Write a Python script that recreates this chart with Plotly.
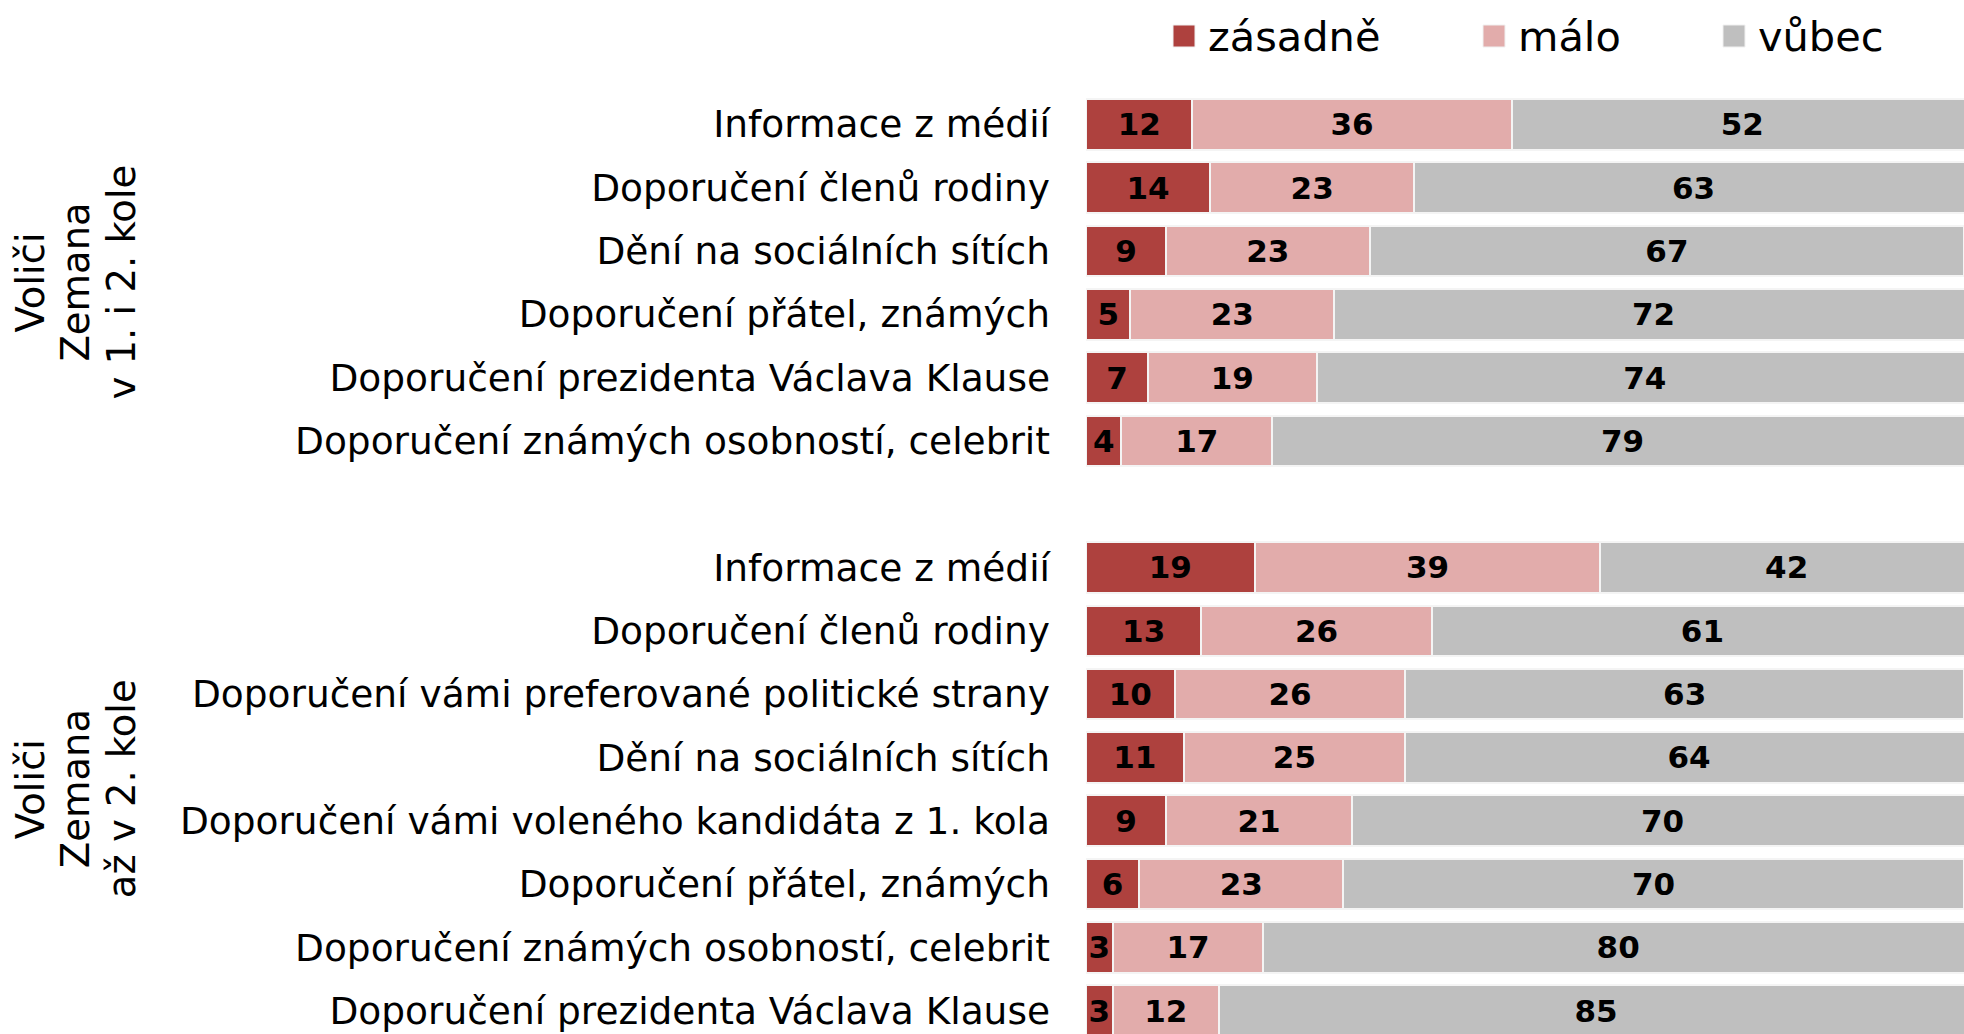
import plotly.graph_objects as go

# Series (stacked segments) and their colours
series_names = ["zásadně", "málo", "vůbec"]
series_colors = ["#AE413E", "#E2ACAB", "#BFBFBF"]

# Group 1: voters of Zeman in both rounds
group1_title = ["Voliči", "Zemana", "v 1. i 2. kole"]
group1_labels = [
    "Informace z médií",
    "Doporučení členů rodiny",
    "Dění na sociálních sítích",
    "Doporučení přátel, známých",
    "Doporučení prezidenta Václava Klause",
    "Doporučení známých osobností, celebrit",
]
group1_zasadne = [12, 14, 9, 5, 7, 4]
group1_malo = [36, 23, 23, 23, 19, 17]
group1_vubec = [52, 63, 67, 72, 74, 79]

# Group 2: voters of Zeman only in the second round
group2_title = ["Voliči", "Zemana", "až v 2. kole"]
group2_labels = [
    "Informace z médií",
    "Doporučení členů rodiny",
    "Doporučení vámi preferované politické strany",
    "Dění na sociálních sítích",
    "Doporučení vámi voleného kandidáta z 1. kola",
    "Doporučení přátel, známých",
    "Doporučení známých osobností, celebrit",
    "Doporučení prezidenta Václava Klause",
]
group2_zasadne = [19, 13, 10, 11, 9, 6, 3, 3]
group2_malo = [39, 26, 26, 25, 21, 23, 17, 12]
group2_vubec = [42, 61, 63, 64, 70, 70, 80, 85]

# Row positions: one empty row separates the two groups
pos1 = list(range(len(group1_labels)))
pos2 = [len(group1_labels) + 1 + i for i in range(len(group2_labels))]
positions = pos1 + pos2
labels = group1_labels + group2_labels

series_values = [
    group1_zasadne + group2_zasadne,
    group1_malo + group2_malo,
    group1_vubec + group2_vubec,
]

W, H = 1964, 1034
ML, MR, MT, MB = 1086, 0, 92, 0
FONT = "DejaVu Sans"

fig = go.Figure()
for name, color, vals in zip(series_names, series_colors, series_values):
    fig.add_trace(go.Bar(
        name=name,
        y=positions,
        x=vals,
        orientation="h",
        width=0.8,
        marker=dict(color=color, line=dict(color="#F4F4F4", width=2)),
        text=[str(v) for v in vals],
        textposition="inside",
        insidetextanchor="middle",
        textangle=0,
        constraintext="none",
        textfont=dict(family=FONT, size=31, color="black", weight="bold"),
        showlegend=False,
        hoverinfo="name+x",
    ))

plot_w = W - ML - MR
plot_h = H - MT - MB


def px_x(px):
    return (px - ML) / plot_w


def px_y(py):
    return (H - MB - py) / plot_h


annotations = []
shapes = []

# Legend drawn as square swatches with text
legend_swatch_x = [1173, 1483, 1723]
legend_text_x = [1206, 1516, 1756]
for name, color, sx, tx in zip(series_names, series_colors, legend_swatch_x, legend_text_x):
    shapes.append(dict(
        type="rect", xref="paper", yref="paper",
        x0=px_x(sx), x1=px_x(sx + 22), y0=px_y(47), y1=px_y(25),
        fillcolor=color, line=dict(color="#F0F0F0", width=1),
    ))
    annotations.append(dict(
        text=name, xref="paper", yref="paper",
        x=px_x(tx), y=px_y(36), xanchor="left", yanchor="middle",
        showarrow=False, font=dict(family=FONT, size=41.5, color="black"),
    ))

# Rotated group titles, one annotation per line
title_line_x = [30, 75, 121]
for title, pos in [(group1_title, pos1), (group2_title, pos2)]:
    for line, lx in zip(title, title_line_x):
        annotations.append(dict(
            text=line, xref="paper", yref="y",
            x=px_x(lx), y=(pos[0] + pos[-1]) / 2,
            xanchor="center", yanchor="middle", textangle=-90,
            showarrow=False, font=dict(family=FONT, size=38.5, color="black"),
        ))

fig.update_layout(
    width=W, height=H,
    margin=dict(l=ML, r=MR, t=MT, b=MB, pad=0),
    barmode="stack",
    plot_bgcolor="white",
    paper_bgcolor="white",
    font=dict(family=FONT, color="black"),
    xaxis=dict(range=[0, 99], visible=False, showgrid=False, zeroline=False),
    yaxis=dict(
        tickmode="array", tickvals=positions, ticktext=labels,
        range=[14.366, -0.508],
        showgrid=False, zeroline=False, showline=False, ticks="",
        ticklabelstandoff=35,
        tickfont=dict(family=FONT, size=37.5, color="black"),
    ),
    annotations=annotations,
    shapes=shapes,
    showlegend=False,
)

fig.write_html("out.html")
